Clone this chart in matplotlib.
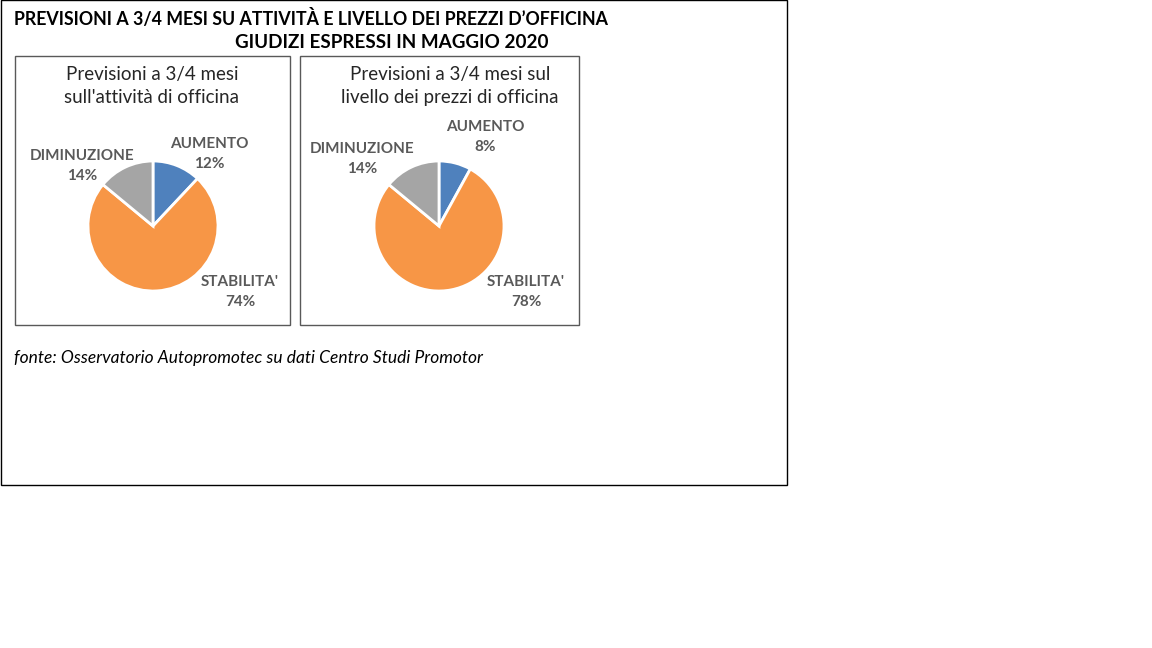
import matplotlib.pyplot as plt
from matplotlib.patches import Rectangle

plt.rcParams['font.family'] = ['Lato', 'DejaVu Sans']

# data
categories = ['AUMENTO', "STABILITA'", 'DIMINUZIONE']
activity = [12, 74, 14]
prices = [8, 78, 14]
colors = ['#4F81BD', '#F79646', '#A5A5A5']
panel_titles = ["Previsioni a 3/4 mesi\nsull'attività di officina",
                "Previsioni a 3/4 mesi sul\nlivello dei prezzi di officina"]

W, H = 1152, 648
fig = plt.figure(figsize=(W / 100, H / 100), dpi=100)


def fx(px):
    return px / W


def fy(py):
    return 1 - py / H


# outer frame
fig.add_artist(Rectangle((fx(0.5), fy(485)), fx(786), 485 / H, transform=fig.transFigure,
                         fill=False, edgecolor='black', linewidth=1))

fig.text(fx(14), fy(18), "PREVISIONI A 3/4 MESI SU ATTIVITÀ E LIVELLO DEI PREZZI D\u2019OFFICINA",
         fontsize=12.8, fontweight='bold', ha='left', va='center', color='black')
fig.text(fx(392), fy(43), "GIUDIZI ESPRESSI IN MAGGIO 2020",
         fontsize=13.6, fontweight='bold', ha='center', va='center', color='black')

# panel layout (pixel boxes) and label positions
panels = [
    dict(box=(15, 56, 290, 325), center=(153, 226), title_x=152, values=activity,
         label_pos=[(209, 154), (240, 292), (82, 166)]),
    dict(box=(300, 56, 579, 325), center=(439, 226), title_x=450, values=prices,
         label_pos=[(485, 137), (526, 292), (362, 159)]),
]
radius_px = 65

for p, title in zip(panels, panel_titles):
    x0, y0, x1, y1 = p['box']
    fig.add_artist(Rectangle((fx(x0), fy(y1)), fx(x1 - x0), (y1 - y0) / H,
                             transform=fig.transFigure, fill=False,
                             edgecolor='#595959', linewidth=1))
    fig.text(fx(p['title_x']), fy(86), title, fontsize=13.5, ha='center', va='center',
             color='#262626', linespacing=1.45)
    cx, cy = p['center']
    ax = fig.add_axes([fx(cx - radius_px), fy(cy + radius_px), fx(2 * radius_px), 2 * radius_px / H])
    ax.pie(p['values'], colors=colors, startangle=90, counterclock=False, radius=1,
           wedgeprops=dict(edgecolor='white', linewidth=2))
    ax.set_xlim(-1, 1)
    ax.set_ylim(-1, 1)
    ax.set_aspect('equal')
    ax.axis('off')
    for cat, val, (lx, ly) in zip(categories, p['values'], p['label_pos']):
        fig.text(fx(lx), fy(ly), f"{cat}\n{val}%", fontsize=11, fontweight='bold',
                 ha='center', va='center', color='#595959', linespacing=1.6)

fig.text(fx(14), fy(358), "fonte: Osservatorio Autopromotec su dati Centro Studi Promotor",
         fontsize=12.5, style='italic', ha='left', va='center', color='black')

plt.savefig("out.png", dpi=100)
